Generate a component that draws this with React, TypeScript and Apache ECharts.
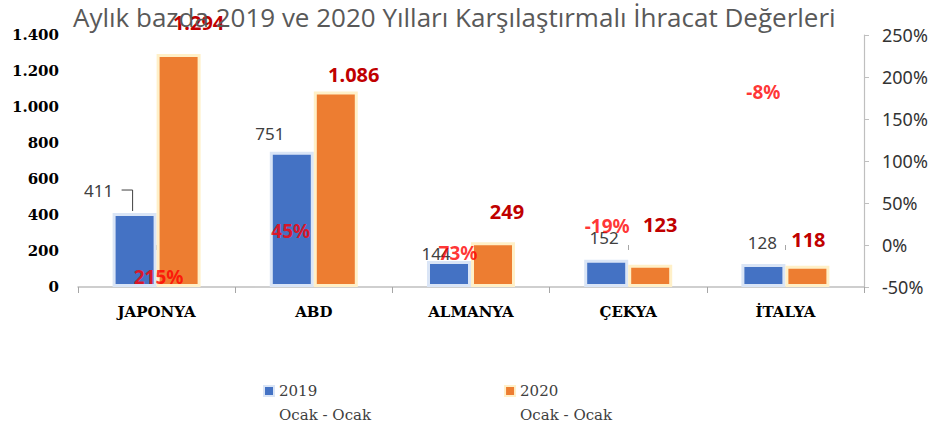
import React, { useEffect, useRef } from "react";
import * as echarts from "echarts";

const categories = ["JAPONYA", "ABD", "ALMANYA", "ÇEKYA", "İTALYA"];
const values2019 = [411, 751, 144, 152, 128];
const values2020 = [1294, 1086, 249, 123, 118];
const changePct = [215, 45, 73, -19, -8];
const seriesNames = ["2019\nOcak - Ocak", "2020\nOcak - Ocak"];
const titleText = "Aylık bazda 2019 ve 2020 Yılları Karşılaştırmalı İhracat Değerleri";

// label displacements (as moved by hand in the original chart)
const shift2019 = [[-36, -9], [-22, -5], [-13, 6], [-2, -9], [-1, -8]];
const shift2020 = [[20, -17], [18, -2], [14, -16], [10, -25], [1, -11]];
const shiftPct = [[2, 213], [-23, 24], [-13, 69], [-21, -35], [-22, -160]];

const BAR_W = 44;

const dotThousands = (v: number) =>
  String(v).replace(/\B(?=(\d{3})+(?!\d))/g, ".");

export default function App() {
  const ref = useRef<HTMLDivElement>(null);
  useEffect(() => {
    document.body.style.margin = "0";
    const chart = echarts.init(ref.current!, undefined, { renderer: "svg" });
    const serifBold = { fontFamily: "DejaVu Serif", fontWeight: "bold" as const, fontSize: 15, color: "#000" };
    chart.setOption({
      animation: false,
      backgroundColor: "#fff",
      title: {
        text: titleText,
        left: 73,
        top: 0,
        padding: [2, 0, 0, 0],
        textStyle: { fontFamily: "Open Sans", fontWeight: "normal", fontSize: 26, lineHeight: 30, color: "#595959" },
      },
      legend: {
        left: 258,
        top: 374,
        itemGap: 133,
        itemWidth: 10,
        itemHeight: 34,
        icon: "path://M0,0H10V10H0Z M5,34 L5.01,34",
        data: seriesNames,
        textStyle: {
          fontFamily: "DejaVu Serif",
          fontSize: 15,
          color: "#404040",
          lineHeight: 24,
        },
      },
      grid: { left: 78, right: 74, top: 35, bottom: 145, containLabel: false },
      xAxis: [
        {
          type: "category",
          data: categories,
          axisLine: { show: true, lineStyle: { color: "#BFBFBF", width: 1.5 } },
          axisTick: { show: true, length: 6, lineStyle: { color: "#A6A6A6" } },
          axisLabel: { ...serifBold, margin: 17 },
        },
        {
          type: "category",
          data: categories,
          position: "bottom",
          axisLine: { show: false },
          axisTick: { show: true, alignWithLabel: true, length: 5, lineStyle: { color: "#A6A6A6" } },
          axisLabel: { show: false },
          splitLine: { show: false },
        },
      ],
      yAxis: [
        {
          type: "value",
          min: 0,
          max: 1400,
          interval: 200,
          axisLine: { show: false },
          axisTick: { show: false },
          splitLine: { show: false },
          axisLabel: { ...serifBold, margin: 19, formatter: (v: number) => dotThousands(v) },
        },
        {
          type: "value",
          min: -50,
          max: 250,
          interval: 50,
          position: "right",
          axisLine: { show: true, lineStyle: { color: "#BFBFBF", width: 1.2 } },
          axisTick: { show: true, length: 5, lineStyle: { color: "#BFBFBF" } },
          splitLine: { show: false },
          axisLabel: { fontFamily: "Noto Sans", fontSize: 18, color: "#333", margin: 18, formatter: "{value}%" },
        },
      ],
      series: [
        {
          name: seriesNames[0],
          type: "bar",
          xAxisIndex: 0,
          yAxisIndex: 0,
          barWidth: BAR_W,
          barGap: "0%",
          itemStyle: { color: "#4472C4", borderColor: "#DAE5F6", borderWidth: 3 },
          data: values2019,
          label: {
            show: true,
            position: "top",
            distance: 5,
            fontFamily: "Noto Sans",
            fontSize: 17,
            color: "#404040",
          },
          labelLayout: (p: any) => ({ dx: shift2019[p.dataIndex][0], dy: shift2019[p.dataIndex][1] }),
        },
        {
          name: seriesNames[1],
          type: "bar",
          xAxisIndex: 0,
          yAxisIndex: 0,
          barWidth: BAR_W,
          barGap: "0%",
          itemStyle: { color: "#ED7D31", borderColor: "#FFF0C8", borderWidth: 3 },
          data: values2020,
          label: {
            show: true,
            position: "top",
            distance: 5,
            fontFamily: "Noto Sans",
            fontWeight: "bold",
            fontSize: 20,
            color: "#C00000",
            formatter: (p: any) => dotThousands(p.value),
          },
          labelLayout: (p: any) => ({ dx: shift2020[p.dataIndex][0], dy: shift2020[p.dataIndex][1] }),
        },
        {
          name: "leader",
          type: "custom",
          xAxisIndex: 0,
          yAxisIndex: 0,
          silent: true,
          z: 5,
          data: values2019.map((v, i) => [i, v]),
          renderItem: (params: any, api: any) => {
            if (params.dataIndex !== 0) return null;
            const pt = api.coord([api.value(0), api.value(1)]);
            const bx = pt[0] - BAR_W / 2 - 2;
            const top = pt[1] - 2;
            return {
              type: "polyline",
              shape: { points: [[bx - 11, top - 21], [bx, top - 21], [bx, top]] },
              style: { stroke: "#404040", lineWidth: 1, fill: "none" },
            };
          },
        },
        {
          name: "Değişim",
          type: "scatter",
          xAxisIndex: 1,
          yAxisIndex: 1,
          symbol: "circle",
          symbolSize: 1,
          itemStyle: { color: "rgba(0,0,0,0)" },
          data: changePct,
          z: 10,
          label: {
            show: true,
            position: "inside",
            fontFamily: "Noto Sans",
            fontWeight: "bold",
            fontSize: 19,
            color: "#FF0000",
            formatter: (p: any) => `${p.value}%`,
          },
          labelLayout: (p: any) => ({ dx: shiftPct[p.dataIndex][0], dy: shiftPct[p.dataIndex][1] }),
        },
      ],
    });
    return () => chart.dispose();
  }, []);
  return <div ref={ref} style={{ width: 938, height: 432 }} />;
}
